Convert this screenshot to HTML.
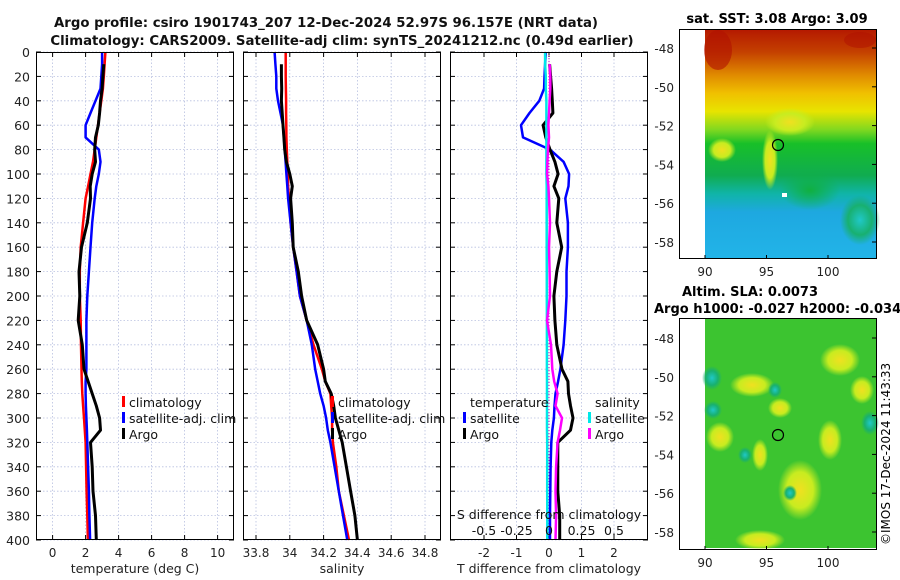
<!DOCTYPE html>
<html><head><meta charset="utf-8"><style>
body{margin:0;background:#fff;}
svg{display:block;font-family:"DejaVu Sans","Liberation Sans",sans-serif;}
</style></head><body>
<svg id="fig" width="900" height="580" viewBox="0 0 900 580">
<defs>
<linearGradient id="sstg" x1="0" y1="0" x2="0" y2="1">
<stop offset="0" stop-color="#b41800"/><stop offset="0.1" stop-color="#c44000"/><stop offset="0.2" stop-color="#e08a00"/><stop offset="0.28" stop-color="#f0c000"/><stop offset="0.36" stop-color="#e8e400"/><stop offset="0.44" stop-color="#80d820"/><stop offset="0.5" stop-color="#18c028"/><stop offset="0.64" stop-color="#10ac50"/><stop offset="0.72" stop-color="#10b4a8"/><stop offset="0.8" stop-color="#1ea8e0"/><stop offset="1" stop-color="#22b4e8"/>
</linearGradient>
<radialGradient id="yb"><stop offset="0" stop-color="#f0e020"/><stop offset="0.6" stop-color="#c8ec20"/><stop offset="1" stop-color="#c8ec20" stop-opacity="0"/></radialGradient>
<radialGradient id="tb"><stop offset="0" stop-color="#20c8c8"/><stop offset="0.6" stop-color="#18b070"/><stop offset="1" stop-color="#18b070" stop-opacity="0"/></radialGradient>
<radialGradient id="gb"><stop offset="0" stop-color="#10b040"/><stop offset="1" stop-color="#10b040" stop-opacity="0"/></radialGradient>
</defs>
<g id="titles" font-weight="bold" font-size="13.3" text-anchor="middle" fill="#111">
<text x="326" y="27">Argo profile: csiro 1901743_207 12-Dec-2024 52.97S 96.157E (NRT data)</text>
<text x="342" y="45">Climatology: CARS2009. Satellite-adj clim: synTS_20241212.nc (0.49d earlier)</text>
</g>
<g id="maps">
<text x="777" y="23" font-size="13" font-weight="bold" text-anchor="middle">sat. SST: 3.08 Argo: 3.09</text>
<rect x="705" y="29" width="172" height="229" fill="url(#sstg)"/>
<g>
<ellipse cx="790" cy="122" rx="25" ry="14" fill="url(#yb)"/>
<ellipse cx="722" cy="150" rx="14" ry="12" fill="url(#yb)"/>
<ellipse cx="770" cy="160" rx="8" ry="30" fill="url(#yb)"/>
<ellipse cx="810" cy="190" rx="30" ry="20" fill="url(#gb)"/>
<ellipse cx="860" cy="220" rx="20" ry="25" fill="url(#tb)"/>
<ellipse cx="718" cy="50" rx="14" ry="20" fill="#b01000" opacity="0.6"/>
<ellipse cx="860" cy="40" rx="16" ry="8" fill="#b01000" opacity="0.5"/>
<rect x="782" y="193" width="5" height="4" fill="#fff"/>
</g>
<circle cx="778" cy="145" r="5.5" fill="none" stroke="#000" stroke-width="1.2"/>
<rect x="679.5" y="29.5" width="197" height="229" fill="none" stroke="#000"/>
<text x="750" y="296" font-size="13" font-weight="bold" text-anchor="middle">Altim. SLA: 0.0073</text>
<text x="654" y="313" font-size="13" font-weight="bold">Argo h1000: -0.027 h2000: -0.034</text>
<rect x="705" y="318" width="172" height="230" fill="#3cc430"/>
<g>
<ellipse cx="752" cy="385" rx="22" ry="12" fill="url(#yb)"/>
<ellipse cx="720" cy="437" rx="14" ry="15" fill="url(#yb)"/>
<ellipse cx="760" cy="455" rx="8" ry="16" fill="url(#yb)"/>
<ellipse cx="800" cy="490" rx="22" ry="30" fill="url(#yb)"/>
<ellipse cx="780" cy="408" rx="12" ry="10" fill="url(#yb)"/>
<ellipse cx="840" cy="360" rx="20" ry="16" fill="url(#yb)"/>
<ellipse cx="830" cy="440" rx="12" ry="20" fill="url(#yb)"/>
<ellipse cx="760" cy="540" rx="25" ry="10" fill="url(#yb)"/>
<ellipse cx="862" cy="390" rx="12" ry="14" fill="url(#yb)"/>
<ellipse cx="712" cy="378" rx="10" ry="12" fill="url(#tb)"/>
<ellipse cx="713" cy="410" rx="9" ry="9" fill="url(#tb)"/>
<ellipse cx="870" cy="423" rx="9" ry="12" fill="url(#tb)"/>
<ellipse cx="775" cy="390" rx="7" ry="8" fill="url(#tb)"/>
<ellipse cx="745" cy="455" rx="7" ry="8" fill="url(#tb)"/>
<ellipse cx="790" cy="493" rx="7" ry="8" fill="url(#tb)"/>
</g>
<circle cx="778" cy="435" r="5.5" fill="none" stroke="#000" stroke-width="1.2"/>
<rect x="679.5" y="318.5" width="197" height="231" fill="none" stroke="#000"/>
<text transform="translate(890,545) rotate(-90)" font-size="12">©IMOS 17-Dec-2024 11:43:33</text>
</g>
<g id="axes"></g>
</svg>
<script>
const depths=[0,10,20,30,40,50,60,70,80,90,100,110,120,140,160,180,200,220,240,260,270,280,290,300,310,320,340,360,380,400];
const tempClim=[3.2,3.15,3.1,3.05,2.95,2.85,2.75,2.65,2.55,2.45,2.3,2.15,2.0,1.85,1.7,1.65,1.65,1.7,1.72,1.75,1.77,1.8,1.85,1.9,1.95,2.0,2.03,2.06,2.1,2.14];
const tempSat=[3.0,3.0,2.95,2.9,2.6,2.3,2.0,2.0,2.8,2.9,2.8,2.65,2.55,2.4,2.3,2.2,2.1,2.05,2.05,2.05,2.0,2.0,2.02,2.05,2.08,2.1,2.15,2.2,2.23,2.27];
const tempArgo=[3.1,3.1,3.05,3.0,2.9,2.85,2.77,2.6,2.55,2.6,2.4,2.28,2.3,2.1,1.75,1.6,1.65,1.55,1.8,1.9,2.15,2.4,2.65,2.85,2.9,2.3,2.4,2.45,2.6,2.65];
const salClim=[33.976,33.976,33.976,33.977,33.978,33.978,33.979,33.98,33.982,33.985,33.988,33.99,33.995,34.005,34.02,34.04,34.06,34.1,34.14,34.19,34.21,34.24,34.245,34.25,34.25,34.255,34.275,34.29,34.32,34.35];
const salSat=[33.91,33.915,33.92,33.92,33.93,33.945,33.96,33.965,33.97,33.975,33.98,33.985,33.99,34.005,34.02,34.04,34.06,34.1,34.13,34.15,34.165,34.18,34.2,34.215,34.225,34.24,34.265,34.29,34.315,34.34];
const salArgo=[33.95,33.95,33.95,33.952,33.95,33.955,33.96,33.965,33.97,33.98,34.0,34.015,34.005,34.015,34.02,34.05,34.07,34.1,34.165,34.2,34.21,34.245,34.26,34.27,34.29,34.31,34.335,34.36,34.385,34.4];
const dTsat=[-0.1,-0.12,-0.14,-0.15,-0.3,-0.6,-0.86,-0.8,0.03,0.45,0.62,0.6,0.5,0.58,0.58,0.54,0.54,0.5,0.45,0.35,0.28,0.2,0.17,0.15,0.1,0.07,0.05,0.04,0.03,0.03];
const dTargo=[0.0,0.02,0.05,0.08,0.1,0.12,-0.18,-0.1,0.03,0.18,0.28,0.15,0.3,0.24,0.39,0.24,0.15,0.18,0.24,0.4,0.58,0.6,0.66,0.74,0.66,0.27,0.27,0.27,0.33,0.33];
const dSsat=[-0.03,-0.03,-0.025,-0.025,-0.02,-0.02,-0.02,-0.02,-0.02,-0.02,-0.02,-0.018,-0.018,-0.018,-0.018,-0.017,-0.017,-0.016,-0.016,-0.016,-0.015,-0.015,-0.015,-0.015,-0.015,-0.014,-0.014,-0.014,-0.013,-0.013];
const dSargo=[0.0,0.005,0.01,0.01,0.005,0.0,-0.005,0.0,-0.008,-0.012,-0.015,-0.005,0.0,0.008,0.0,0.005,0.008,-0.015,0.015,0.025,0.04,0.066,0.05,0.1,0.085,0.066,0.055,0.05,0.055,0.05];
const depthTicks=[0,20,40,60,80,100,120,140,160,180,200,220,240,260,280,300,320,340,360,380,400];
const tempTicks=[0,2,4,6,8,10];
const salTicks=[33.8,34,34.2,34.4,34.6,34.8];
const dTTicks=[-2,-1,0,1,2];
const dSTicks=[-0.5,-0.25,0,0.25,0.5];
const mapLatTicks=[-48,-50,-52,-54,-56,-58];
const mapLonTicks=[90,95,100];

const NS='http://www.w3.org/2000/svg';
const root=document.getElementById('axes');
function mk(tag,attrs,parent){const e=document.createElementNS(NS,tag);for(const k in attrs)e.setAttribute(k,attrs[k]);(parent||root).appendChild(e);return e;}
const Y=d=>52+d*1.22;
const panels=[
 {x0:36,x1:234,xs:v=>52.6+v*16.5,ticks:tempTicks,label:'temperature (deg C)',name:'temperature-panel'},
 {x0:243,x1:441,xs:v=>256+(v-33.8)*169,ticks:salTicks,label:'salinity',name:'salinity-panel'},
 {x0:450,x1:648,xs:v=>549+v*32.5,ticks:dTTicks,label:'T difference from climatology',name:'difference-panel'}
];
const xsS=v=>549+v*130;
panels.forEach((p,pi)=>{
 const g=mk('g',{});
 
 
 mk('rect',{x:p.x0,y:52,width:p.x1-p.x0,height:488,fill:'#fff'},g);
 depthTicks.forEach(d=>{mk('line',{x1:p.x0,x2:p.x1,y1:Y(d),y2:Y(d),stroke:'#b8c0e0','stroke-width':0.8,'stroke-dasharray':'1.5,2'},g);
  mk('line',{x1:p.x0,x2:p.x0+5,y1:Y(d),y2:Y(d),stroke:'#000'},g);mk('line',{x1:p.x1-5,x2:p.x1,y1:Y(d),y2:Y(d),stroke:'#000'},g);});
 p.ticks.forEach(t=>{const x=p.xs(t);mk('line',{x1:x,x2:x,y1:52,y2:540,stroke:'#b8c0e0','stroke-width':0.8,'stroke-dasharray':'1.5,2'},g);
  mk('line',{x1:x,x2:x,y1:540,y2:535,stroke:'#000'},g);mk('line',{x1:x,x2:x,y1:52,y2:57,stroke:'#000'},g);
  const tx=mk('text',{x:x,y:557,'font-size':12,'text-anchor':'middle',fill:'#222'},g);tx.textContent=String(t);
  
  });
 const xl=mk('text',{x:(p.x0+p.x1)/2,y:573,'font-size':12.5,'text-anchor':'middle',fill:'#222'},g);xl.textContent=p.label;
 
 
});
depthTicks.forEach(d=>{const t=mk('text',{x:30,y:Y(d)+5,'font-size':12.5,'text-anchor':'end',fill:'#222'});t.textContent=String(d);
 
 });
function line(vals,xs,color,w,name,skip){
 const pts=[];vals.forEach((v,i)=>{if(skip&&depths[i]<skip)return;pts.push(xs(v).toFixed(1)+','+Y(depths[i]).toFixed(1));});
 const pl=mk('polyline',{points:pts.join(' '),fill:'none',stroke:color,'stroke-width':w,'stroke-linejoin':'round'});
 
 
}
const P=panels;
line(tempClim,P[0].xs,'#f00',2.5,'temp-climatology-line');
line(tempSat,P[0].xs,'#00f',2.5,'temp-satellite-line');
line(tempArgo,P[0].xs,'#000',3,'temp-argo-line',5);
line(salClim,P[1].xs,'#f00',2.5,'sal-climatology-line');
line(salSat,P[1].xs,'#00f',2.5,'sal-satellite-line');
line(salArgo,P[1].xs,'#000',3,'sal-argo-line',5);
mk('line',{x1:549,x2:549,y1:52,y2:540,stroke:'#c000c0','stroke-width':1,'stroke-dasharray':'1,2'});
line(dTsat,P[2].xs,'#00f',2.5,'dT-satellite-line');
line(dTargo,P[2].xs,'#000',3,'dT-argo-line',5);
line(dSsat,xsS,'#00e8e8',2.5,'dS-satellite-line');
line(dSargo,xsS,'#f0f',2.5,'dS-argo-line',5);
P.forEach(p=>{mk('rect',{x:p.x0+0.5,y:52.5,width:p.x1-p.x0-1,height:487,fill:'none',stroke:'#000'});});
function leg(x,y,color,label,name){const g=mk('g',{});
 if(color)mk('rect',{x:x,y:y-11,width:3,height:11,fill:color},g);
 const t=mk('text',{x:x+(color?7:0),y:y,'font-size':12.5,fill:'#111'},g);t.textContent=label;}
leg(122,407,'#f00','climatology','legend-climatology');
leg(122,423,'#00f','satellite-adj. clim','legend-satellite-adj');
leg(122,439,'#000','Argo','legend-argo');
leg(331,407,'#f00','climatology','legend-climatology-sal');
leg(331,423,'#00f','satellite-adj. clim','legend-satellite-adj-sal');
leg(331,439,'#000','Argo','legend-argo-sal');
leg(470,407,null,'temperature','legend-temperature-heading');
leg(463,423,'#00f','satellite','legend-dT-satellite');
leg(463,439,'#000','Argo','legend-dT-argo');
leg(595,407,null,'salinity','legend-salinity-heading');
leg(588,423,'#00e8e8','satellite','legend-dS-satellite');
leg(588,439,'#f0f','Argo','legend-dS-argo');
const sh=mk('text',{x:549,y:519,'font-size':12.5,'text-anchor':'middle',fill:'#111'});sh.textContent='S difference from climatology';


dSTicks.forEach(t=>{const tx=mk('text',{x:xsS(t),y:535,'font-size':12.5,'text-anchor':'middle',fill:'#111'});tx.textContent=String(t);
 
 });
[[48,242],[338,532]].forEach(([ya,yb],mi)=>{
 mapLatTicks.forEach(l=>{const y=ya+(-48-l)*(yb-ya)/10;
  mk('line',{x1:876,x2:872,y1:y,y2:y,stroke:'#000'});
  const t=mk('text',{x:674,y:y+5,'font-size':12,'text-anchor':'end',fill:'#222'});t.textContent=String(l);
  
  });
 const base=mi?550:259;
 mapLonTicks.forEach(l=>{const x=705+(l-90)*12.3;
  mk('line',{x1:x,x2:x,y1:base,y2:base-4,stroke:'#000'});
  const t=mk('text',{x:x,y:base+17,'font-size':12,'text-anchor':'middle',fill:'#222'});t.textContent=String(l);
  
  });
});
</script>
</body></html>
